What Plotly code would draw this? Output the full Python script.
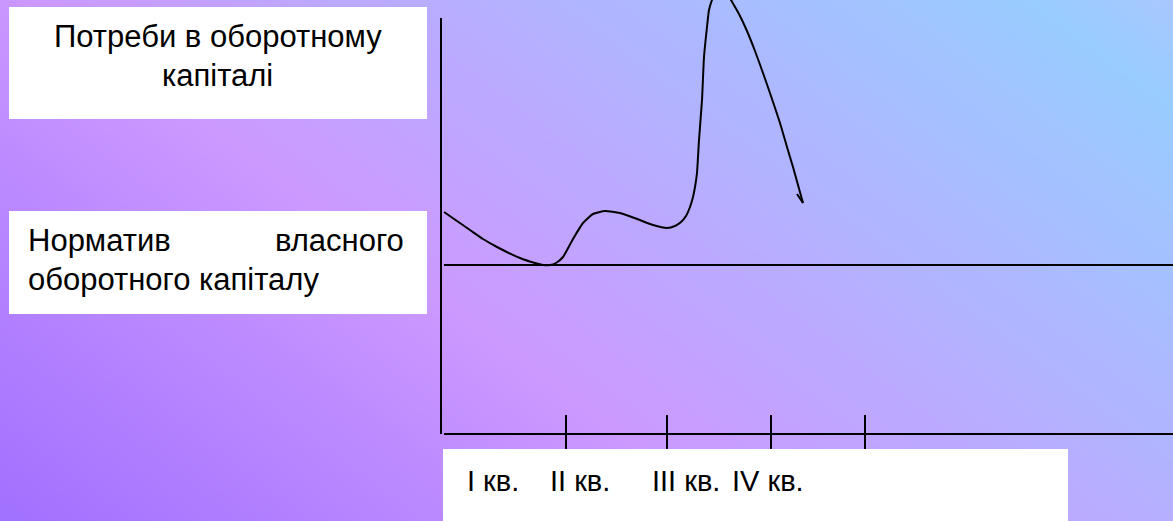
import numpy as np
import plotly.graph_objects as go

W, H = 1173, 521
# origin of the chart axes in page pixels
OX, OY = 441, 434

# --- data (x: horizontal position, y: level above the time axis) ---
curve_x = [3, 16, 29, 42, 56, 79, 94, 102, 109, 115, 122, 132, 142, 152, 164, 179, 196, 212,
           226, 234, 240, 245, 249, 252, 254, 256, 258, 261, 263, 266, 268, 271, 275, 280, 285,
           290, 298, 306, 314, 322, 330, 339, 346, 352, 357, 362]
curve_y = [222, 213, 204, 195, 187, 176, 171, 169, 169, 171, 177, 195, 211, 220, 223, 221, 215, 209,
           206, 208, 212, 218, 227, 237, 247, 261, 294, 334, 377, 407, 424, 434, 444, 447, 443,
           434, 420, 403, 383, 361, 338, 311, 287, 267, 249, 231]
hook_x = [356, 362]
hook_y = [240, 231]
norm_level = 169
quarter_ticks = [125, 226, 330, 424]
quarter_labels = ["I кв.", "II кв.", "III кв.", "IV кв."]
quarter_label_px = [465, 548, 650, 730]

FONT = "Liberation Sans, Arial, sans-serif"
FS = 31
FS_Q = 29


def px(x):
    return x / W


def py(y):
    return 1 - y / H


fig = go.Figure()

# background gradient
gx = np.linspace(-OX - 20, W - OX + 20, 40)
gy = np.linspace(-(H - OY) - 20, OY + 20, 20)
GX, GY = np.meshgrid(gx, gy)
PXg = GX + OX
PYg = OY - GY
Z = 0.6 * PXg - 0.8 * PYg
tmin, tmax = -417, 704
fig.add_trace(go.Heatmap(
    x=gx, y=gy, z=Z, zmin=tmin, zmax=tmax, zsmooth="best", showscale=False,
    hoverinfo="skip",
    colorscale=[[0.0, "#A070FF"], [0.394, "#CC99FF"], [0.925, "#99CCFF"], [1.0, "#A8C8FF"]],
))

line_style = dict(color="black", width=2)

# axes
fig.add_trace(go.Scatter(x=[0, 0], y=[0, OY - 18], mode="lines", line=line_style, hoverinfo="skip"))
fig.add_trace(go.Scatter(x=[3, W - OX], y=[0, 0], mode="lines", line=line_style, hoverinfo="skip"))

# quarter ticks
tx, ty = [], []
for t in quarter_ticks:
    tx += [t, t, None]
    ty += [-15, 19, None]
fig.add_trace(go.Scatter(x=tx, y=ty, mode="lines", line=line_style, hoverinfo="skip"))

# norm line
fig.add_trace(go.Scatter(x=[3, W - OX], y=[norm_level, norm_level], mode="lines",
                         line=line_style, hoverinfo="skip"))

# demand curve
fig.add_trace(go.Scatter(x=curve_x, y=curve_y, mode="lines",
                         line=dict(color="black", width=2, shape="spline", smoothing=0.5),
                         hoverinfo="skip"))
fig.add_trace(go.Scatter(x=hook_x, y=hook_y, mode="lines", line=line_style, hoverinfo="skip"))

shapes = []
for (x0, y0, x1, y1) in [(9, 7, 427, 119), (9, 211, 427, 314), (443, 449, 1068, 530)]:
    shapes.append(dict(type="rect", xref="paper", yref="paper",
                       x0=px(x0), x1=px(x1), y0=py(y1), y1=py(y0),
                       fillcolor="white", line=dict(width=0), layer="above"))

ann = []


def text(t, x, y, anchor, size=FS):
    ann.append(dict(text=t, x=px(x), y=py(y), xref="paper", yref="paper",
                    xanchor=anchor, yanchor="middle", showarrow=False,
                    font=dict(family=FONT, size=size, color="black")))


text("Потреби в оборотному", 218, 36, "center")
text("капіталі", 217, 75, "center")
text("Норматив", 26, 241, "left")
text("власного", 406, 241, "right")
text("оборотного капіталу", 26, 279, "left")
for lab, xp in zip(quarter_labels, quarter_label_px):
    text(lab, xp, 481, "left", FS_Q)

fig.update_layout(
    width=W, height=H, margin=dict(l=0, r=0, t=0, b=0),
    showlegend=False, paper_bgcolor="white", plot_bgcolor="white",
    xaxis=dict(range=[-OX, W - OX], domain=[0, 1], visible=False, fixedrange=True),
    yaxis=dict(range=[-(H - OY), OY], domain=[0, 1], visible=False, fixedrange=True),
    shapes=shapes, annotations=ann,
)

fig.write_html("out.html", config={"displayModeBar": False},
               post_script="document.body.style.margin='0';document.body.style.overflow='hidden';")
